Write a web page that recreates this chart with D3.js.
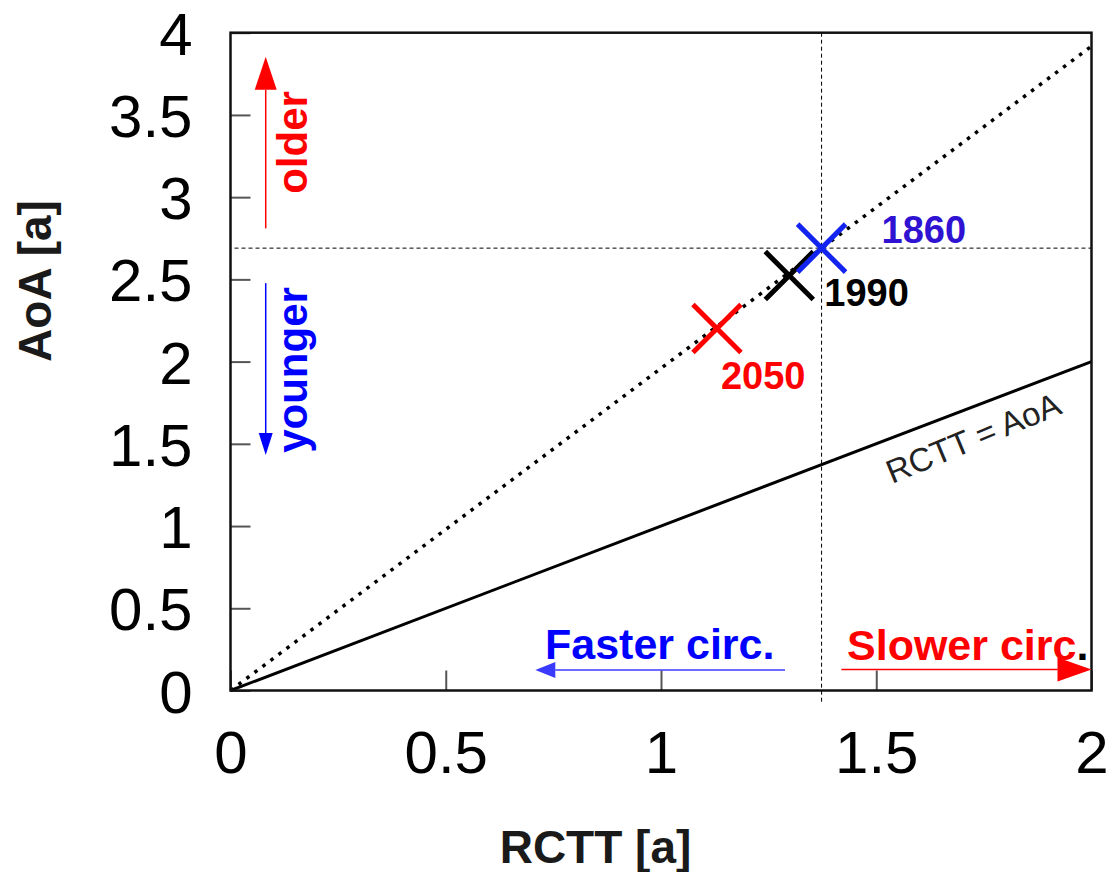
<!DOCTYPE html>
<html>
<head>
<meta charset="utf-8">
<script src="https://cdn.jsdelivr.net/npm/d3@7"></script>
<style>
  html, body { margin: 0; padding: 0; background: #fff; }
  svg { display: block; font-family: "Liberation Sans", Arial, sans-serif; }
</style>
</head>
<body>
<svg id="chart" width="1113" height="872"></svg>
<script>
// ---- data ----
const xTicks = [0, 0.5, 1, 1.5, 2];
const xTickLabels = ["0", "0.5", "1", "1.5", "2"];
const yTicks = [0, 0.5, 1, 1.5, 2, 2.5, 3, 3.5, 4];
const yTickLabels = ["0", "0.5", "1", "1.5", "2", "2.5", "3", "3.5", "4"];

const years = ["2050", "1990", "1860"];
const rcttValues = [1.130, 1.298, 1.373];   // RCTT [a]
const aoaValues = [2.201, 2.523, 2.690];    // AoA [a]
const markerColors = ["#ff0000", "#000000", "#1424f0"];
const labelColors = ["#ff0000", "#000000", "#2f12d2"];

// reference lines: 1:1 line and the line through the 1860 state
const identityLine = [[0, 0], [2, 2]];
const ratioLine = [[0, 0], [2, 3.918]];
const refRctt = 1.373;  // 1860 RCTT
const refAoa = 2.690;   // 1860 AoA

// ---- layout ----
const svg = d3.select("#chart");
const x = d3.scaleLinear().domain([0, 2]).range([230.5, 1091.5]);
const y = d3.scaleLinear().domain([0, 4]).range([690.5, 32.7]);

// ---- axes (ticks pointing inward) ----
const yAxis = d3.axisLeft(y)
  .tickValues(yTicks)
  .tickFormat((d, i) => yTickLabels[i])
  .tickSize(-20)
  .tickPadding(38);
const gy = svg.append("g").attr("transform", `translate(${x(0)},0)`).call(yAxis);

const xAxis = d3.axisBottom(x)
  .tickValues(xTicks)
  .tickFormat((d, i) => xTickLabels[i])
  .tickSize(-20)
  .tickPadding(40);
const gx = svg.append("g").attr("transform", `translate(0,${y(0)})`).call(xAxis);

[gx, gy].forEach(g => {
  g.select(".domain").remove();
  g.selectAll(".tick line").attr("stroke", "#555").attr("stroke-width", 2);
  g.selectAll(".tick text")
    .attr("fill", "#000")
    .style("font-size", "60px");
});
gy.selectAll(".tick text").attr("dy", "0.36em");

// ---- dashed reference lines at the 1860 state ----
svg.append("line")
  .attr("x1", x(refRctt)).attr("x2", x(refRctt))
  .attr("y1", y(4)).attr("y2", y(0) + 12)
  .attr("stroke", "#000").attr("stroke-width", 1)
  .attr("stroke-dasharray", "4,3");
svg.append("line")
  .attr("x1", x(0) + 4).attr("x2", x(2))
  .attr("y1", y(refAoa)).attr("y2", y(refAoa))
  .attr("stroke", "#000").attr("stroke-width", 1)
  .attr("stroke-dasharray", "4,3");

// ---- lines ----
const line = d3.line().x(d => x(d[0])).y(d => y(d[1]));
svg.append("path")
  .datum(ratioLine)
  .attr("d", line)
  .attr("fill", "none")
  .attr("stroke", "#000")
  .attr("stroke-width", 3.5)
  .attr("stroke-dasharray", "3.5,6.5");
svg.append("path")
  .datum(identityLine)
  .attr("d", line)
  .attr("fill", "none")
  .attr("stroke", "#000")
  .attr("stroke-width", 3);

// label on the 1:1 line
svg.append("text")
  .attr("transform", "translate(892,484) rotate(-22.5)")
  .attr("fill", "#222")
  .style("font-size", "33px")
  .text("RCTT = AoA");

// ---- frame ----
svg.append("rect")
  .attr("x", x(0)).attr("y", y(4))
  .attr("width", x(2) - x(0)).attr("height", y(0) - y(4))
  .attr("fill", "none").attr("stroke", "#111").attr("stroke-width", 2.5);

// ---- markers ----
const half = 24;
const labelOffsets = [[4, 60], [35, 30.5], [60, -5]];
const pts = years.map((yr, i) => ({
  year: yr, rctt: rcttValues[i], aoa: aoaValues[i],
  color: markerColors[i], labelColor: labelColors[i], off: labelOffsets[i]
}));
svg.append("g").selectAll("path")
  .data(pts)
  .join("path")
  .attr("d", d => {
    const cx = x(d.rctt), cy = y(d.aoa);
    return `M${cx - half},${cy - half}L${cx + half},${cy + half}M${cx - half},${cy + half}L${cx + half},${cy - half}`;
  })
  .attr("stroke", d => d.color)
  .attr("stroke-width", 5)
  .attr("fill", "none");
svg.append("g").selectAll("text")
  .data(pts)
  .join("text")
  .attr("x", d => x(d.rctt) + d.off[0])
  .attr("y", d => y(d.aoa) + d.off[1])
  .attr("fill", d => d.labelColor)
  .style("font-size", "38px")
  .style("font-weight", "bold")
  .text(d => d.year);

// ---- direction arrows ----
function arrow(x1, y1, x2, y2, color, width, headLen, headHalf) {
  const px1 = x(x1), py1 = y(y1), px2 = x(x2), py2 = y(y2);
  const ang = Math.atan2(py2 - py1, px2 - px1);
  const bx = px2 - headLen * Math.cos(ang), by = py2 - headLen * Math.sin(ang);
  svg.append("line")
    .attr("x1", px1).attr("y1", py1).attr("x2", bx).attr("y2", by)
    .attr("stroke", color).attr("stroke-width", width);
  const nx = -Math.sin(ang), ny = Math.cos(ang);
  svg.append("path")
    .attr("d", `M${px2},${py2}L${bx + nx * headHalf},${by + ny * headHalf}L${bx - nx * headHalf},${by - ny * headHalf}Z`)
    .attr("fill", color);
}
arrow(0.0818, 2.81, 0.0818, 3.853, "#ff0000", 1.5, 33, 11);
arrow(0.0818, 2.477, 0.0818, 1.432, "#0000ff", 1.5, 22, 7);
arrow(1.288, 0.125, 0.708, 0.125, "#3a3aff", 1.5, 20, 8);
arrow(1.419, 0.127, 2.0, 0.127, "#ff0000", 1.5, 34, 12);

// annotation texts
svg.append("text")
  .attr("transform", "translate(307,142.5) rotate(-90)")
  .attr("text-anchor", "middle")
  .attr("fill", "#ff0000")
  .style("font-size", "42px").style("font-weight", "bold")
  .text("older");
svg.append("text")
  .attr("transform", "translate(307,370) rotate(-90)")
  .attr("text-anchor", "middle")
  .attr("fill", "#0000ff")
  .style("font-size", "42px").style("font-weight", "bold")
  .text("younger");
svg.append("text")
  .attr("x", 545).attr("y", 659)
  .attr("fill", "#0000ff")
  .style("font-size", "43px").style("font-weight", "bold")
  .text("Faster circ.");
const slow = svg.append("text")
  .attr("x", 847).attr("y", 660)
  .style("font-size", "43px").style("font-weight", "bold");
slow.append("tspan").attr("fill", "#ff0000").text("Slower circ");
slow.append("tspan").attr("fill", "#000").text(".");

// ---- axis titles ----
svg.append("text")
  .attr("x", 595.5).attr("y", 863)
  .attr("text-anchor", "middle")
  .attr("fill", "#1a1a1a")
  .style("font-size", "46px").style("font-weight", "bold")
  .text("RCTT [a]");
svg.append("text")
  .attr("transform", "translate(51,281) rotate(-90)")
  .attr("text-anchor", "middle")
  .attr("fill", "#1a1a1a")
  .style("font-size", "46px").style("font-weight", "bold")
  .text("AoA [a]");
</script>
</body>
</html>
